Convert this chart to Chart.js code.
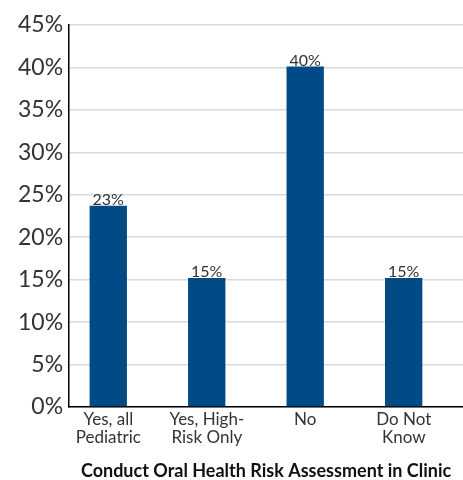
<!DOCTYPE html>
<html>
<head>
<meta charset="utf-8">
<script src="https://cdn.jsdelivr.net/npm/chart.js@4"></script>
<style>
  html, body { margin: 0; padding: 0; background: #fff; }
  #wrap { width: 463px; height: 480px; }
</style>
</head>
<body>
<div id="wrap"><canvas id="myChart"></canvas></div>
<script>
// Categories and values (percent)
const categories = [['Yes, all', 'Pediatric'], ['Yes, High-', 'Risk Only'], 'No', ['Do Not', 'Know']];
const values = [23.7, 15.2, 40.1, 15.2];
const barLabels = ['23%', '15%', '40%', '15%'];
const axisTitle = 'Conduct Oral Health Risk Assessment in Clinic';

const textColor = '#333333';
const fontFamily = 'Lato, "Open Sans", sans-serif';

// Draw the value above each bar
const valueLabels = {
    id: 'valueLabels',
    afterDatasetsDraw(chart) {
        const ctx = chart.ctx;
        const meta = chart.getDatasetMeta(0);
        ctx.save();
        ctx.font = '16px ' + fontFamily;
        ctx.fillStyle = textColor;
        ctx.textAlign = 'center';
        ctx.textBaseline = 'bottom';
        meta.data.forEach((bar, i) => {
            ctx.fillText(barLabels[i], bar.x, bar.y + 2);
        });
        ctx.restore();
    }
};

const ctx = document.getElementById('myChart').getContext('2d');

// the bars in the original sit a little left of the category centres,
// so an empty second dataset takes the right half of each slot
const myChart = new Chart(ctx, {
    type: 'bar',
    data: {
        labels: categories,
        datasets: [{
            data: values,
            backgroundColor: '#004a86',
            barPercentage: 1.85,
            categoryPercentage: 0.41
        }, {
            data: [],
            backgroundColor: 'rgba(0,0,0,0)',
            barPercentage: 1.85,
            categoryPercentage: 0.41
        }]
    },
    options: {
        responsive: true,
        maintainAspectRatio: false,
        animation: false,
        layout: { padding: { top: 25, right: 0, left: 12, bottom: 0 } },
        plugins: {
            legend: { display: false },
            tooltip: { enabled: false }
        },
        scales: {
            x: {
                grid: { display: false, drawTicks: false },
                border: { color: '#000', width: 1.5 },
                ticks: {
                    color: textColor,
                    font: { family: fontFamily, size: 17, lineHeight: 1.06 },
                    padding: 4,
                    labelOffset: -10,
                    maxRotation: 0
                },
                title: {
                    display: true,
                    text: axisTitle,
                    color: '#111',
                    font: { family: fontFamily, size: 18, weight: 'bold', lineHeight: 1.0 },
                    padding: { top: 11, bottom: 0 }
                }
            },
            y: {
                min: 0,
                max: 45,
                grid: { color: '#d9d9d9', lineWidth: 1.5, drawTicks: false },
                border: { color: '#000', width: 1.5 },
                ticks: {
                    stepSize: 5,
                    color: textColor,
                    font: { family: fontFamily, size: 23 },
                    padding: 6,
                    callback: v => v + '%'
                }
            }
        }
    },
    plugins: [valueLabels]
});
</script>
</body>
</html>
